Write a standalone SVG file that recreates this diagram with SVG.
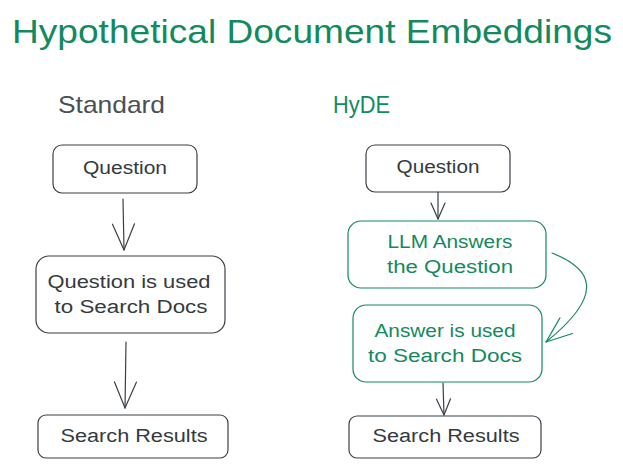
<svg xmlns="http://www.w3.org/2000/svg" width="623" height="469" viewBox="0 0 623 469">
<defs>
<style>
.bg{fill:#ffffff}
.box{fill:none;stroke:#3b4046;stroke-width:1.2;stroke-linecap:round;stroke-linejoin:round}
.gbox{fill:none;stroke:#138a5e;stroke-width:1.2;stroke-linecap:round;stroke-linejoin:round}
.t{font-family:"Liberation Sans","Open Sans",sans-serif;font-size:18px;fill:#343a40;text-anchor:middle}
.gt{font-family:"Liberation Sans","Open Sans",sans-serif;font-size:18px;fill:#138a5e;text-anchor:middle}
.title{font-family:"Liberation Sans","Open Sans",sans-serif;font-size:33px;fill:#138a5e}
.head{font-family:"Liberation Sans","Open Sans",sans-serif;font-size:24px}
.ln{fill:none;stroke:#3b4046;stroke-width:1.2;stroke-linecap:round;stroke-linejoin:round}
.gln{fill:none;stroke:#138a5e;stroke-width:1.2;stroke-linecap:round;stroke-linejoin:round}
</style>
<marker id="ah" viewBox="0 0 20 20" refX="18" refY="10" markerWidth="20" markerHeight="20" markerUnits="userSpaceOnUse" orient="auto">
<path d="M2,3 L18,10 L2,17" fill="none" stroke="#3b4046" stroke-width="1.2" stroke-linecap="round" stroke-linejoin="round"/>
</marker>
<marker id="ahl" viewBox="0 0 30 30" refX="28" refY="15" markerWidth="30" markerHeight="30" markerUnits="userSpaceOnUse" orient="auto">
<path d="M2,4 L28,15 L2,26" fill="none" stroke="#3b4046" stroke-width="1.2" stroke-linecap="round" stroke-linejoin="round"/>
</marker>
<marker id="ahg" viewBox="0 0 30 30" refX="28" refY="15" markerWidth="30" markerHeight="30" markerUnits="userSpaceOnUse" orient="auto">
<path d="M2,5 L28,15 L2,25" fill="none" stroke="#138a5e" stroke-width="1.2" stroke-linecap="round" stroke-linejoin="round"/>
</marker>
</defs>
<rect class="bg" x="0" y="0" width="623" height="469"/>

<g id="title">
<text class="title" x="12" y="43" textLength="600" lengthAdjust="spacingAndGlyphs">Hypothetical Document Embeddings</text>
</g>
<g id="heading-standard">
<text class="head" x="58" y="113" fill="#495057" textLength="107" lengthAdjust="spacingAndGlyphs">Standard</text>
</g>
<g id="heading-hyde">
<text class="head" x="333" y="113" fill="#138a5e" textLength="57" lengthAdjust="spacingAndGlyphs">HyDE</text>
</g>

<g id="connectors">
<path class="ln" d="M123,199 L124,250" marker-end="url(#ahl)"/>
<path class="ln" d="M126,342 L125,408" marker-end="url(#ahl)"/>
<path class="ln" d="M438,192 L438,219" marker-end="url(#ah)"/>
<path class="ln" d="M443,383 L444,415" marker-end="url(#ah)"/>
<path class="gln" d="M552,253 C590,268 608,292 546,342" marker-end="url(#ahg)"/>
</g>

<g id="std-question">
<rect class="box" x="53" y="145" width="144" height="48" rx="9"/>
<text class="t" x="125" y="174" textLength="84" lengthAdjust="spacingAndGlyphs">Question</text>
</g>
<g id="std-search">
<rect class="box" x="36" y="256" width="189" height="77" rx="13"/>
<text class="t" x="129" y="288" textLength="163" lengthAdjust="spacingAndGlyphs">Question is used</text>
<text class="t" x="131" y="313" textLength="153" lengthAdjust="spacingAndGlyphs">to Search Docs</text>
</g>
<g id="std-results">
<rect class="box" x="38" y="415" width="190" height="43" rx="8"/>
<text class="t" x="134" y="442" textLength="147" lengthAdjust="spacingAndGlyphs">Search Results</text>
</g>

<g id="hyde-question">
<rect class="box" x="366" y="145" width="144" height="47" rx="9"/>
<text class="t" x="438" y="173" textLength="83" lengthAdjust="spacingAndGlyphs">Question</text>
</g>
<g id="hyde-llm">
<rect class="gbox" x="348" y="221" width="198" height="67" rx="13"/>
<text class="gt" x="450" y="248" textLength="125" lengthAdjust="spacingAndGlyphs">LLM Answers</text>
<text class="gt" x="450" y="273" textLength="126" lengthAdjust="spacingAndGlyphs">the Question</text>
</g>
<g id="hyde-answer">
<rect class="gbox" x="353" y="305" width="189" height="77" rx="13"/>
<text class="gt" x="445" y="337" textLength="141" lengthAdjust="spacingAndGlyphs">Answer is used</text>
<text class="gt" x="445" y="362" textLength="154" lengthAdjust="spacingAndGlyphs">to Search Docs</text>
</g>
<g id="hyde-results">
<rect class="box" x="349" y="416" width="192" height="42" rx="8"/>
<text class="t" x="446" y="442" textLength="147" lengthAdjust="spacingAndGlyphs">Search Results</text>
</g>
</svg>
